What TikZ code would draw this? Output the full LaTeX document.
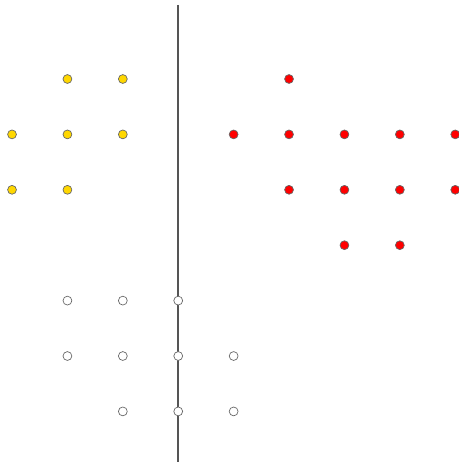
\documentclass[tikz,border=0pt]{standalone}
\usepackage{xcolor}
\usepackage{tikz}
\definecolor{gold}{HTML}{FFD700}
\definecolor{edgegray}{HTML}{666666}
\definecolor{linegray}{HTML}{555555}

\begin{document}
\begin{tikzpicture}[
  x=1cm, y=-1cm,
  dot/.style={circle, draw=edgegray, line width=0.35pt, inner sep=0pt,
              minimum size=1.6mm},
  yellowdot/.style={dot, fill=gold},
  reddot/.style={dot, fill=red},
  whitedot/.style={dot, fill=white},
  axis/.style={draw=linegray, line width=0.8pt}
]
\useasboundingbox (-0.217,-1.426) rectangle (8.05,6.913);

% the dividing line
\coordinate (top) at (3,-1.336);
\coordinate (bottom) at (3,6.913);
\draw[axis] (top) -- (bottom);

% yellow group
\foreach \c/\r in {1/0,2/0,0/1,1/1,2/1,0/2,1/2}
  \node[yellowdot] (y-\c-\r) at (\c,\r) {};

% red group
\foreach \c/\r in {5/0,4/1,5/1,6/1,7/1,8/1,5/2,6/2,7/2,8/2,6/3,7/3}
  \node[reddot] (r-\c-\r) at (\c,\r) {};

% white group
\foreach \c/\r in {1/4,2/4,3/4,1/5,2/5,3/5,4/5,2/6,3/6,4/6}
  \node[whitedot] (w-\c-\r) at (\c,\r) {};
\end{tikzpicture}
\end{document}
